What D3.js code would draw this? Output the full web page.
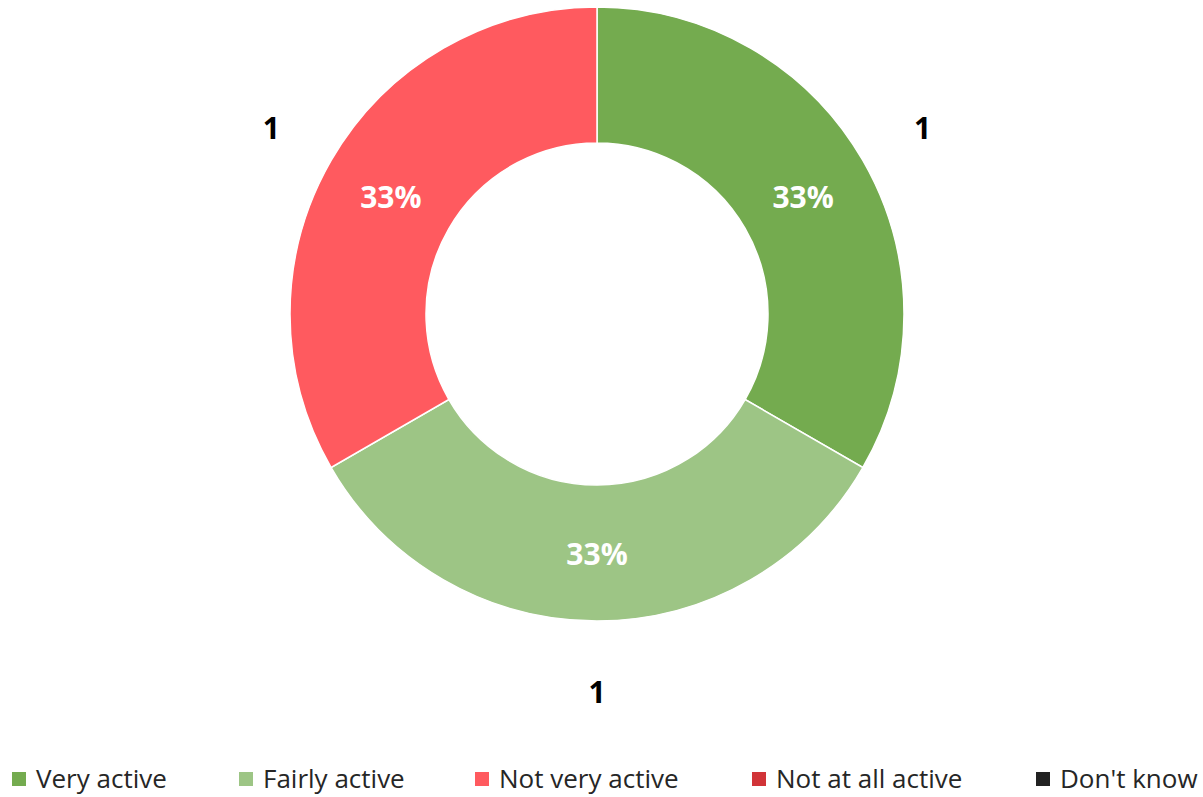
<!DOCTYPE html>
<html>
<head>
<meta charset="utf-8">
<script src="https://cdn.jsdelivr.net/npm/d3@7.9.0/dist/d3.min.js"></script>
<style>
  body { margin: 0; background: #fff; }
  svg { display: block; font-family: "Segoe UI", "Open Sans", "Noto Sans", sans-serif; }
</style>
</head>
<body>
<svg id="chart" width="1203" height="797"></svg>
<script>
// --- data ---
const categories = ["Very active", "Fairly active", "Not very active", "Not at all active", "Don't know"];
const values = [1, 1, 1, 0, 0];
const colors = ["#74ab4f", "#9dc585", "#ff5a5f", "#d13438", "#222222"];

const svg = d3.select("#chart");
const cx = 597, cy = 314;
const outerR = 307, innerR = 171;
const labelR = 238;
const valueR = 376;

const color = d3.scaleOrdinal().domain(categories).range(colors);
const total = d3.sum(values);

const pie = d3.pie().sort(null).value(d => d.value);
const arcs = pie(categories.map((c, i) => ({ name: c, value: values[i] })));
const shown = arcs.filter(d => d.value > 0);
const arc = d3.arc().innerRadius(innerR).outerRadius(outerR);

const g = svg.append("g").attr("transform", `translate(${cx},${cy})`);

g.selectAll("path.slice")
  .data(shown)
  .join("path")
  .attr("class", "slice")
  .attr("d", arc)
  .attr("fill", d => color(d.data.name))
  .attr("stroke", "#fff")
  .attr("stroke-width", 1.5);

// percentage labels inside the ring
const pctArc = d3.arc().innerRadius(labelR).outerRadius(labelR);
g.selectAll("text.pct")
  .data(shown)
  .join("text")
  .attr("class", "pct")
  .attr("transform", d => {
    const [x, y] = pctArc.centroid(d);
    return `translate(${x},${y + 2})`;
  })
  .attr("text-anchor", "middle")
  .attr("dy", "0.36em")
  .attr("fill", "#fff")
  .attr("font-weight", "bold")
  .attr("font-size", 30)
  .text(d => Math.round(d.value / total * 100) + "%");

// value labels outside
const valArc = d3.arc().innerRadius(valueR).outerRadius(valueR);
g.selectAll("text.val")
  .data(shown)
  .join("text")
  .attr("class", "val")
  .attr("transform", d => {
    const [x, y] = valArc.centroid(d);
    return `translate(${x},${y + 2})`;
  })
  .attr("text-anchor", "middle")
  .attr("dy", "0.36em")
  .attr("fill", "#000")
  .attr("font-weight", "bold")
  .attr("font-size", 30)
  .text(d => d.value);

// legend
const legendX = [12, 239, 475, 752, 1036];
const legend = svg.append("g").attr("transform", "translate(0,779)");
const items = legend.selectAll("g.item")
  .data(categories)
  .join("g")
  .attr("class", "item")
  .attr("transform", (d, i) => `translate(${legendX[i]},0)`);

items.append("rect")
  .attr("x", 0).attr("y", -7)
  .attr("width", 14).attr("height", 14)
  .attr("fill", d => color(d));

items.append("text")
  .attr("x", 24)
  .attr("dy", "0.35em")
  .attr("font-size", 26)
  .attr("fill", "#262626")
  .text(d => d);
</script>
</body>
</html>
